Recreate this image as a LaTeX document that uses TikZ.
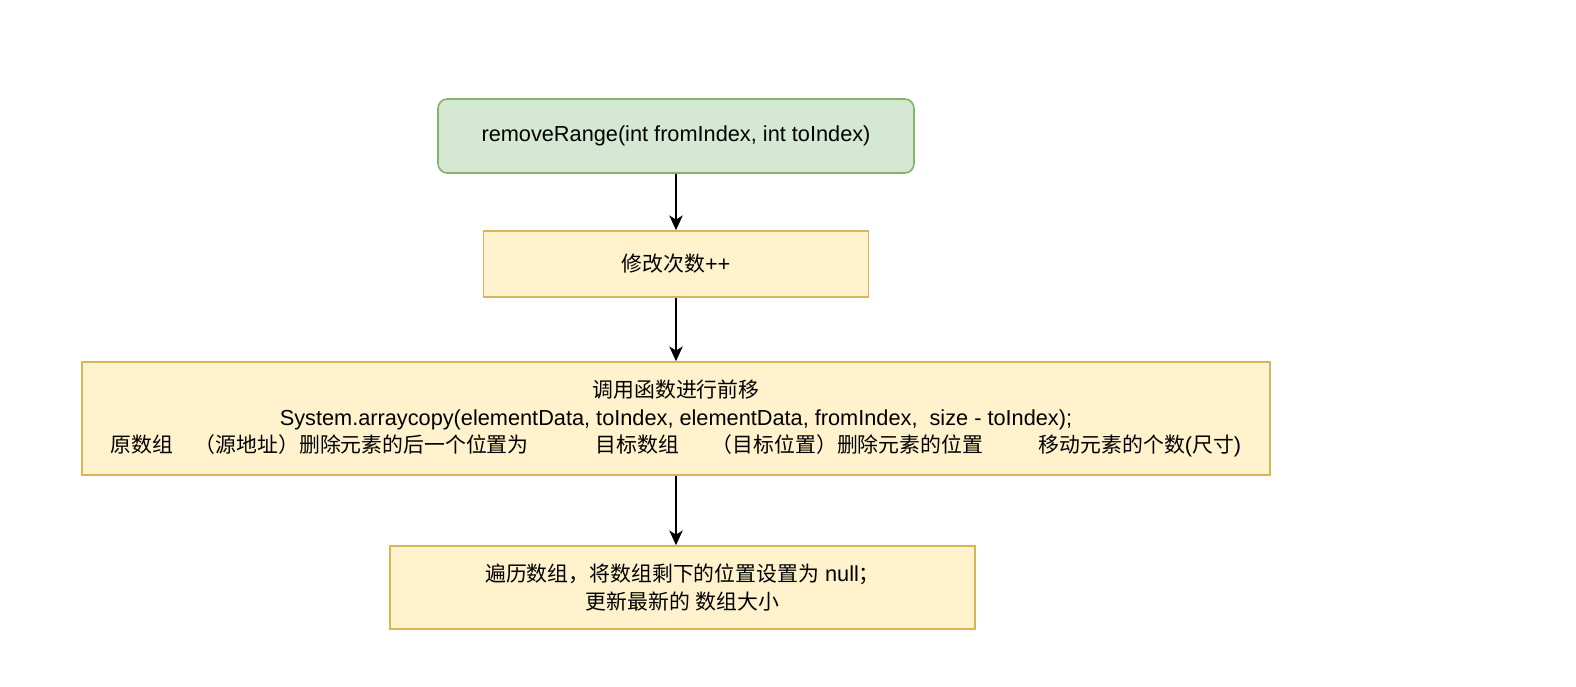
\documentclass[tikz,border=0pt]{standalone}
\usepackage{fontspec}
\setmainfont{Liberation Sans}
\newfontfamily\cjk[Scale=0.96]{Noto Sans CJK SC}
\newcommand{\zh}[1]{{\cjk #1}}
\usetikzlibrary{arrows.meta}
\definecolor{startfill}{HTML}{D5E8D4}
\definecolor{startline}{HTML}{82B366}
\definecolor{blockfill}{HTML}{FFF2CC}
\definecolor{blockline}{HTML}{D6B656}
\begin{document}
\begin{tikzpicture}[
    x=0.75pt, y=-0.75pt,
    startbox/.style={rectangle, draw=startline, fill=startfill, rounded corners=7pt, line width=1.2pt, align=center, inner sep=0pt, font=\fontsize{16.3}{20.7}\selectfont},
    block/.style={rectangle, draw=blockline, fill=blockfill, line width=1.2pt, align=center, inner sep=0pt, font=\fontsize{16.3}{20.7}\selectfont},
    line/.style={draw, line width=1.5pt, -{Stealth[length=11pt, width=10pt, inset=3pt]}}
]
    \useasboundingbox (0,0) rectangle (1576,686);
    \node [startbox, minimum width=357pt, minimum height=55.5pt] (start) at (676,136) {removeRange(int fromIndex, int toIndex)};
    \node [block, minimum width=288.75pt, minimum height=49.5pt] (modcount) at (676,264) {\zh{修改次数}++};
    \node [block, minimum width=891pt, minimum height=84.75pt] (copy) at (676,418.5) {\zh{调用函数进行前移}\\
        System.arraycopy(elementData, toIndex, elementData, fromIndex,\ \ size - toIndex);\\
        \makebox[63pt][l]{\zh{原数组}}\makebox[300.75pt][l]{\zh{（源地址）删除元素的后一个位置为}}\makebox[87pt][l]{\zh{目标数组}}\makebox[245.25pt][l]{\zh{（目标位置）删除元素的位置}}\zh{移动元素的个数}(\zh{尺寸})};
    \node [block, minimum width=438.75pt, minimum height=62.25pt] (clear) at (682.5,587.5) {\zh{遍历数组，将数组剩下的位置设置为} null\zh{；}\\
        \zh{更新最新的} \zh{数组大小}};

    \draw [line] (start) -- (modcount);
    \draw [line] (modcount) -- (copy);
    \draw [line] (copy.south) -- (copy.south |- clear.north);
\end{tikzpicture}
\end{document}
